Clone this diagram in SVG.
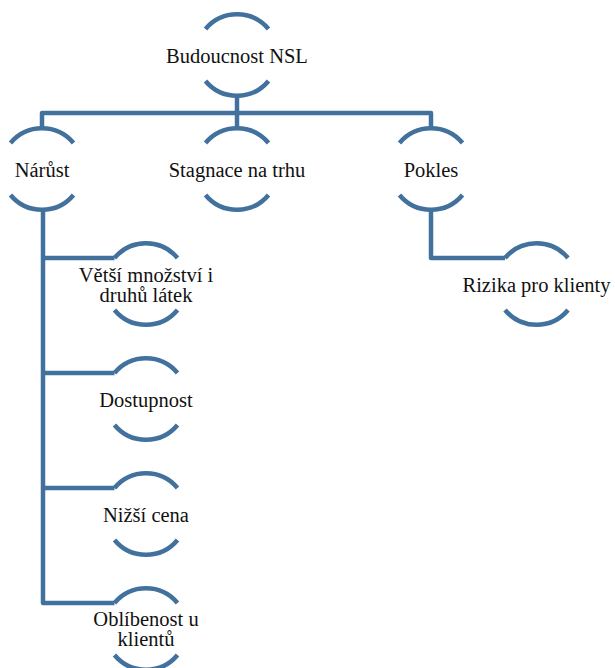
<svg xmlns="http://www.w3.org/2000/svg" width="615" height="668" viewBox="0 0 615 668">
  <style>
    .arc { fill: none; stroke: #41719c; stroke-width: 4.5; }
    .link { fill: none; stroke: #41719c; stroke-width: 4.5; stroke-linejoin: round; }
    .lbl { font-family: 'Liberation Serif', 'DejaVu Serif', serif; font-size: 20.5px; fill: #111; text-anchor: middle; }
  </style>
  <defs>
    <!-- node outline: two arcs of a circle r=41 centred on (0,0) -->
    <g id="bracket">
      <path class="arc" d="M-31.5,-26 A41,41 0 0 1 31.5,-26"/>
      <path class="arc" d="M-31.5,26 A41,41 0 0 0 31.5,26"/>
    </g>
  </defs>

  <g id="connectors">
    <path class="link" d="M237,96 V113"/>
    <path class="link" d="M42,128 V113 H431 V128"/>
    <path class="link" d="M237,113 V128"/>
    <path class="link" d="M431,210 V258 H505"/>
    <path class="link" d="M43,210 V603 H114.5"/>
    <path class="link" d="M43,258 H114.5"/>
    <path class="link" d="M43,373 H114.5"/>
    <path class="link" d="M43,488 H114.5"/>
  </g>

  <g id="node-budoucnost">
    <use href="#bracket" x="237" y="55"/>
    <text class="lbl" x="237" y="63">Budoucnost NSL</text>
  </g>
  <g id="node-narust">
    <use href="#bracket" x="42" y="169"/>
    <text class="lbl" x="42" y="177">Nárůst</text>
  </g>
  <g id="node-stagnace">
    <use href="#bracket" x="237" y="169"/>
    <text class="lbl" x="237" y="177">Stagnace na trhu</text>
  </g>
  <g id="node-pokles">
    <use href="#bracket" x="431" y="169"/>
    <text class="lbl" x="431" y="177">Pokles</text>
  </g>
  <g id="node-rizika">
    <use href="#bracket" x="536.5" y="284"/>
    <text class="lbl" x="536.5" y="292">Rizika pro klienty</text>
  </g>
  <g id="node-vetsi">
    <use href="#bracket" x="146" y="284"/>
    <text class="lbl" x="146" y="282">Větší množství i</text>
    <text class="lbl" x="146" y="302">druhů látek</text>
  </g>
  <g id="node-dostupnost">
    <use href="#bracket" x="146" y="399"/>
    <text class="lbl" x="146" y="407">Dostupnost</text>
  </g>
  <g id="node-nizsi">
    <use href="#bracket" x="146" y="514"/>
    <text class="lbl" x="146" y="522">Nižší cena</text>
  </g>
  <g id="node-oblibenost">
    <use href="#bracket" x="146" y="629"/>
    <text class="lbl" x="146" y="626">Oblíbenost u</text>
    <text class="lbl" x="146" y="646">klientů</text>
  </g>
</svg>
